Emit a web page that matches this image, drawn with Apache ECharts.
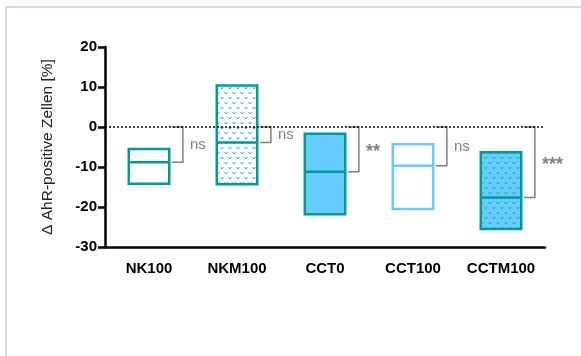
<!DOCTYPE html>
<html>
<head>
<meta charset="utf-8">
<script src="https://cdn.jsdelivr.net/npm/echarts@6/dist/echarts.min.js"></script>
<style>
html,body{margin:0;padding:0;background:#fff;}
#frame{position:absolute;left:5px;top:6px;width:600px;height:400px;border-left:2px solid #c9def2;border-top:2px solid #c9def2;box-sizing:border-box;}
#chart{position:absolute;left:0;top:0;width:581px;height:356px;}
</style>
</head>
<body>
<div id="frame"></div>
<div id="chart"></div>
<script>
// ---- data ----
var categories = ['NK100', 'NKM100', 'CCT0', 'CCT100', 'CCTM100'];
var highs   = [-5.5, 10.4, -1.7, -4.3, -6.3];
var lows    = [-14.2, -14.3, -21.8, -20.5, -25.5];
var medians = [-8.8, -3.9, -11.2, -9.7, -17.6];
var sigLabels = ['ns', 'ns', '**', 'ns', '***'];
var yTicks = [-30, -20, -10, 0, 10, 20];

// ---- styles ----
function makePattern(bg, mark) {
  var c = document.createElement('canvas');
  c.width = 8; c.height = 10;
  var ctx = c.getContext('2d');
  ctx.fillStyle = bg; ctx.fillRect(0, 0, 8, 10);
  ctx.strokeStyle = mark; ctx.lineWidth = 1;
  function v(x, y) {
    ctx.beginPath();
    ctx.moveTo(x - 1.5, y - 1); ctx.lineTo(x, y + 1); ctx.lineTo(x + 1.5, y - 1);
    ctx.stroke();
  }
  v(2, 3); v(6, 8);
  return { image: c, repeat: 'repeat' };
}
var TEAL = '#009b95', LBLUE = '#66ccff';
var fills = ['#ffffff', makePattern('#ffffff', '#3cb8b3'), LBLUE, '#ffffff', makePattern(LBLUE, '#2aa9b0')];
var strokes = [TEAL, TEAL, TEAL, LBLUE, TEAL];
var FONT = 'Liberation Sans, Arial, sans-serif';

var boxData = categories.map(function (c, i) { return [i, lows[i], highs[i], medians[i]]; });
var sigData = categories.map(function (c, i) { return [i, medians[i]]; });

var chart = echarts.init(document.getElementById('chart'), null, { renderer: 'canvas' });
chart.setOption({
  animation: false,
  grid: { left: 105, right: 36, top: 47, bottom: 109 },
  xAxis: {
    type: 'category',
    data: categories,
    axisLine: { onZero: false, lineStyle: { color: '#000', width: 2.5 } },
    axisTick: { alignWithLabel: true, length: 7, lineStyle: { color: '#000', width: 2.5 } },
    axisLabel: { interval: 0, color: '#000', fontWeight: 'bold', fontSize: 15, fontFamily: FONT, margin: 14 }
  },
  yAxis: {
    type: 'value',
    min: yTicks[0], max: yTicks[yTicks.length - 1], interval: 10,
    name: 'Δ AhR-positive Zellen [%]',
    nameLocation: 'middle',
    nameGap: 49,
    nameTextStyle: { color: '#222', fontSize: 15.5, fontFamily: FONT },
    axisLine: { show: true, lineStyle: { color: '#000', width: 2.5 } },
    axisTick: { show: true, length: 7, lineStyle: { color: '#000', width: 2.5 } },
    axisLabel: { color: '#000', fontWeight: 'bold', fontSize: 15, fontFamily: FONT, margin: 8 },
    splitLine: { show: false }
  },
  series: [
    {
      type: 'custom',
      data: boxData,
      z: 2,
      renderItem: function (params, api) {
        var i = api.value(0);
        var top = api.coord([i, api.value(2)]);
        var bot = api.coord([i, api.value(1)]);
        var med = api.coord([i, api.value(3)]);
        var w = api.size([1, 0])[0] * 0.46;
        var x0 = top[0] - w / 2;
        return {
          type: 'group',
          children: [
            { type: 'rect', shape: { x: x0, y: top[1], width: w, height: bot[1] - top[1] },
              style: { fill: fills[i], stroke: strokes[i], lineWidth: 2.5 } },
            { type: 'line', shape: { x1: x0, y1: med[1], x2: x0 + w, y2: med[1] },
              style: { stroke: strokes[i], lineWidth: 2.5 } }
          ]
        };
      }
    },
    {
      type: 'custom',
      data: sigData,
      z: 3,
      renderItem: function (params, api) {
        var i = api.value(0);
        var zero = api.coord([i, 0]);
        var med = api.coord([i, api.value(1)]);
        var bw = api.size([1, 0])[0];
        var xr = zero[0] + bw * 0.385;
        var xl = xr - 11;
        var lbl = sigLabels[i];
        var star = lbl.indexOf('*') >= 0;
        return {
          type: 'group',
          children: [
            { type: 'polyline', shape: { points: [[xl, zero[1]], [xr, zero[1]], [xr, med[1]], [xl, med[1]]] },
              style: { stroke: '#7f7f7f', lineWidth: 1.5, fill: null } },
            { type: 'text', style: { text: lbl, x: xr + 7, y: (zero[1] + med[1]) / 2 + (star ? 3 : 0),
              fill: '#808080', fontSize: star ? 18 : 15, fontWeight: star ? 'bold' : 'normal',
              fontFamily: FONT, verticalAlign: 'middle', align: 'left' } }
          ]
        };
      },
      markLine: {
        silent: true,
        symbol: 'none',
        label: { show: false },
        lineStyle: { color: '#000', type: [2, 2], width: 1.5 },
        data: [{ yAxis: 0 }]
      }
    }
  ]
});
</script>
</body>
</html>
